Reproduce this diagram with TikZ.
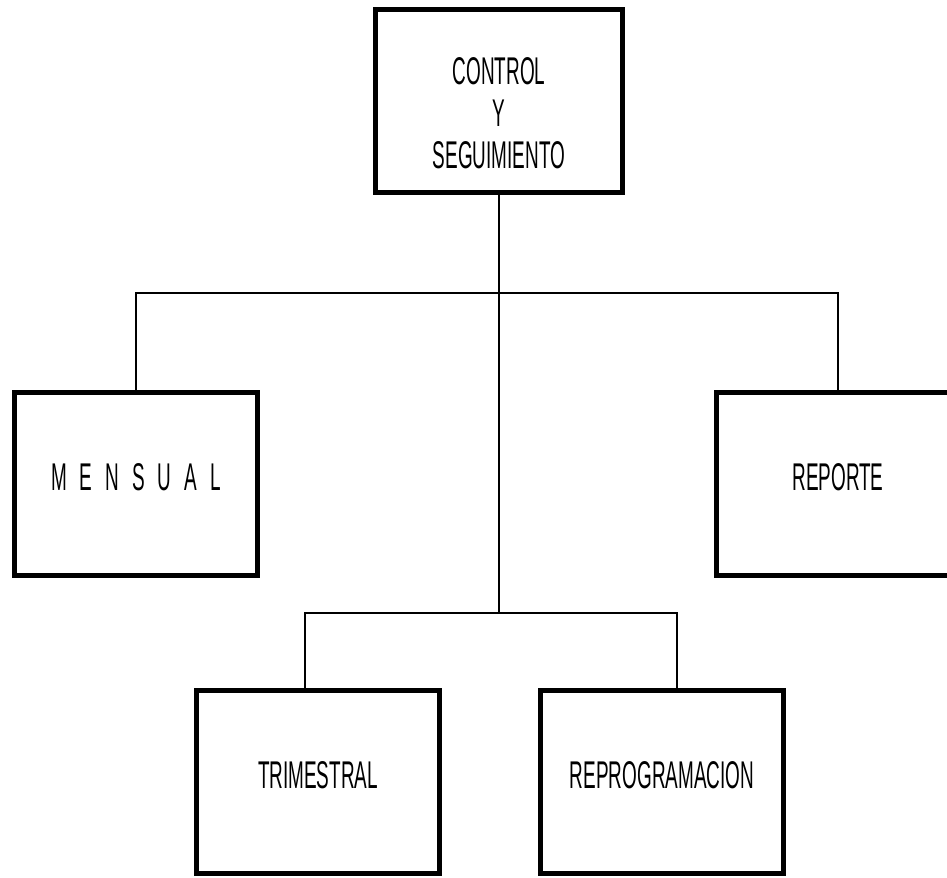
\documentclass[tikz,border=0pt]{standalone}
\usepackage{fontspec}
\newfontfamily\plotter[FakeStretch=0.49]{Liberation Sans}
\tikzset{
 caja/.style={draw,line width=2.8pt,minimum width=4.85cm,minimum height=3.65cm,inner sep=0pt,align=center,font=\plotter\fontsize{22}{24}\selectfont},
 linea/.style={line width=1.4pt}
}
\begin{document}
\begin{tikzpicture}[x=0.02cm,y=-0.02cm]
 \useasboundingbox (0,0) rectangle (947,877);
 \clip (0,0) rectangle (947,877);
 \node[caja,minimum width=4.95cm,text height=77pt] (control) at (499,101) {CONTROL\\Y\\SEGUIMIENTO};
 \node[caja,text depth=8pt] (mensual) at (136,484) {M\hspace{2.6mm}E\hspace{2.6mm}N\hspace{2.6mm}S\hspace{2.6mm}U\hspace{2.6mm}A\hspace{2.6mm}L};
 \node[caja,text depth=8pt] (reporte) at (838,484) {REPORTE};
 \node[caja,text depth=8pt] (trimestral) at (318,782) {TRIMESTRAL};
 \node[caja,text depth=8pt] (reprog) at (662,782) {REPROGRAMACION};
 \coordinate (nudo1) at (499,293);
 \coordinate (nudo2) at (499,613);
 \draw[linea] (control) -- (nudo2);
 \draw[linea] (mensual.north) |- (nudo1) -| (reporte.north);
 \draw[linea] ([xshift=-0.26cm]trimestral.north) |- (nudo2) -| ([xshift=0.3cm]reprog.north);
\end{tikzpicture}
\end{document}
